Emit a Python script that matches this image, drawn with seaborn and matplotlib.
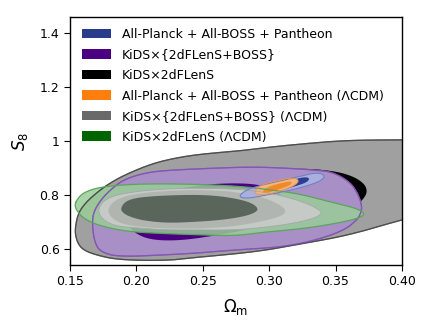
import numpy as np
import matplotlib
matplotlib.use('Agg')
import matplotlib.pyplot as plt
import matplotlib.patches as mpatches
from matplotlib.ticker import FormatStrFormatter, FuncFormatter
import seaborn as sns

# contour outlines (Omega_m, S8)
kids_outer_om = [0.154, 0.156, 0.161, 0.169, 0.179, 0.191, 0.211, 0.229, 0.249, 0.277, 0.301, 0.324, 0.350, 0.374, 0.399, 0.421,
                 0.421, 0.399, 0.374, 0.350, 0.324, 0.299, 0.274, 0.248, 0.224, 0.186, 0.169, 0.160, 0.156, 0.154]
kids_outer_s8 = [0.681, 0.730, 0.767, 0.804, 0.841, 0.874, 0.915, 0.937, 0.952, 0.963, 0.978, 0.989, 1.000, 1.004, 1.004, 1.007,
                 0.730, 0.707, 0.670, 0.641, 0.619, 0.596, 0.581, 0.570, 0.556, 0.559, 0.578, 0.596, 0.619, 0.652]

kids_inner_om = [0.248, 0.286, 0.324, 0.349, 0.363, 0.372, 0.374, 0.371, 0.367, 0.353, 0.323, 0.286, 0.248, 0.233]
kids_inner_s8 = [0.852, 0.885, 0.900, 0.889, 0.870, 0.841, 0.811, 0.785, 0.767, 0.741, 0.711, 0.693, 0.693, 0.748]

boss_outer_om = [0.173, 0.181, 0.191, 0.209, 0.229, 0.261, 0.287, 0.311, 0.334, 0.348, 0.361, 0.367, 0.370, 0.369, 0.366,
                 0.357, 0.336, 0.311, 0.274, 0.248, 0.224, 0.186, 0.173, 0.169, 0.167, 0.167]
boss_outer_s8 = [0.781, 0.822, 0.859, 0.885, 0.893, 0.900, 0.904, 0.900, 0.893, 0.885, 0.848, 0.804, 0.759, 0.730, 0.707,
                 0.670, 0.633, 0.607, 0.596, 0.585, 0.578, 0.570, 0.589, 0.619, 0.670, 0.730]

boss_inner_om = [0.191, 0.199, 0.218, 0.248, 0.270, 0.289, 0.301, 0.310, 0.312, 0.304, 0.286, 0.263, 0.233, 0.210, 0.197]
boss_inner_s8 = [0.711, 0.767, 0.811, 0.837, 0.844, 0.841, 0.826, 0.800, 0.767, 0.711, 0.674, 0.652, 0.630, 0.633, 0.663]

kids_lcdm_om = [0.153, 0.156, 0.161, 0.173, 0.199, 0.237, 0.277, 0.301, 0.323, 0.349, 0.365, 0.373, 0.366, 0.349, 0.324,
                0.298, 0.274, 0.248, 0.224, 0.195, 0.176, 0.165, 0.158]
kids_lcdm_s8 = [0.759, 0.789, 0.811, 0.830, 0.841, 0.841, 0.833, 0.819, 0.804, 0.770, 0.752, 0.730, 0.711, 0.693, 0.674,
                0.663, 0.648, 0.652, 0.656, 0.663, 0.681, 0.700, 0.722]

boss_lcdm_outer_om = [0.171, 0.173, 0.179, 0.188, 0.210, 0.240, 0.278, 0.301, 0.319, 0.331, 0.338, 0.340, 0.335, 0.323,
                      0.311, 0.293, 0.274, 0.248, 0.222, 0.199, 0.184, 0.175]
boss_lcdm_outer_s8 = [0.737, 0.767, 0.789, 0.804, 0.819, 0.826, 0.822, 0.807, 0.785, 0.763, 0.744, 0.733, 0.715, 0.700,
                      0.689, 0.678, 0.670, 0.670, 0.670, 0.678, 0.685, 0.707]

boss_lcdm_mid_om = [0.178, 0.182, 0.191, 0.210, 0.240, 0.270, 0.295, 0.310, 0.313, 0.308, 0.293, 0.270, 0.240, 0.210, 0.191, 0.182]
boss_lcdm_mid_s8 = [0.741, 0.774, 0.796, 0.811, 0.819, 0.815, 0.793, 0.759, 0.737, 0.719, 0.700, 0.681, 0.674, 0.678, 0.689, 0.711]

boss_lcdm_inner_om = [0.188, 0.191, 0.199, 0.214, 0.233, 0.252, 0.267, 0.280, 0.288, 0.292, 0.289, 0.280, 0.264, 0.244, 0.224,
                      0.206, 0.195, 0.190]
boss_lcdm_inner_s8 = [0.748, 0.774, 0.789, 0.796, 0.800, 0.800, 0.793, 0.781, 0.767, 0.748, 0.733, 0.719, 0.707, 0.700, 0.696,
                      0.704, 0.719, 0.733]

planck_outer_om = [0.2765, 0.2825, 0.2931, 0.3081, 0.3232, 0.3337, 0.3398, 0.3420, 0.3375, 0.3232, 0.3081, 0.2946, 0.2840]
planck_outer_s8 = [0.7926, 0.8185, 0.8352, 0.8519, 0.8685, 0.8815, 0.8796, 0.8667, 0.8481, 0.8259, 0.8093, 0.7963, 0.7870]

planck_inner_om = [0.3006, 0.3081, 0.3172, 0.3262, 0.3307, 0.3285, 0.3179, 0.3066]
planck_inner_s8 = [0.8148, 0.8370, 0.8556, 0.8667, 0.8630, 0.8463, 0.8296, 0.8130]

planck_lcdm_outer_om = [0.2886, 0.2908, 0.2961, 0.3059, 0.3157, 0.3209, 0.3224, 0.3172, 0.3074, 0.2968]
planck_lcdm_outer_s8 = [0.8037, 0.8259, 0.8407, 0.8537, 0.8630, 0.8611, 0.8481, 0.8296, 0.8130, 0.8000]

planck_lcdm_inner_om = [0.2946, 0.2968, 0.3036, 0.3127, 0.3172, 0.3164, 0.3081, 0.2991]
planck_lcdm_inner_s8 = [0.8074, 0.8241, 0.8370, 0.8481, 0.8500, 0.8370, 0.8222, 0.8074]

legend_labels = ['All-Planck + All-BOSS + Pantheon',
                 'KiDS\u00d7{2dFLenS+BOSS}',
                 'KiDS\u00d72dFLenS',
                 'All-Planck + All-BOSS + Pantheon (\u039bCDM)',
                 'KiDS\u00d7{2dFLenS+BOSS} (\u039bCDM)',
                 'KiDS\u00d72dFLenS (\u039bCDM)']
legend_colors = ['#283c8c', '#4b0082', '#000000', '#ff7f0e', '#696969', '#006400']


def smooth(x, y, n=4):
    # chaikin corner cutting on a closed outline
    p = np.column_stack([x, y]).astype(float)
    for _ in range(n):
        q = np.roll(p, -1, axis=0)
        p = np.stack([0.75 * p + 0.25 * q, 0.25 * p + 0.75 * q], axis=1).reshape(-1, 2)
    return p[:, 0], p[:, 1]


def outline(ax, x, y, ec, lw=0.8, alpha=1.0):
    sx, sy = smooth(x, y)
    ax.plot(np.append(sx, sx[0]), np.append(sy, sy[0]), color=ec, lw=lw, alpha=alpha)


def region(ax, x, y, fc, ec='none', lw=0.8, alpha=1.0):
    sx, sy = smooth(x, y)
    ax.fill(sx, sy, facecolor=fc, edgecolor='none', alpha=alpha)
    if ec != 'none':
        outline(ax, x, y, ec, lw)


sns.set_style('ticks')
plt.rcParams['font.family'] = ['DejaVu Sans']

fig, ax = plt.subplots(figsize=(4.28, 3.29), dpi=100)
fig.subplots_adjust(left=0.1636, right=0.939, bottom=0.1945, top=0.948)

region(ax, kids_outer_om, kids_outer_s8, '#a0a0a0', '#4d4d4d', 0.9)
region(ax, kids_inner_om, kids_inner_s8, '#000000')
region(ax, boss_outer_om, boss_outer_s8, '#a88fc6', '#8455b5', 0.9)
region(ax, boss_inner_om, boss_inner_s8, '#4b0082')
region(ax, kids_lcdm_om, kids_lcdm_s8, '#99cd99', alpha=0.85)
# edges seen through the green band
outline(ax, boss_outer_om, boss_outer_s8, '#8455b5', 0.9, alpha=0.7)
outline(ax, kids_outer_om, kids_outer_s8, '#4d4d4d', 0.9, alpha=0.6)
region(ax, boss_lcdm_outer_om, boss_lcdm_outer_s8, '#c6cac6', '#a4a8a4', 0.6)
region(ax, boss_lcdm_mid_om, boss_lcdm_mid_s8, '#b0b5b0')
region(ax, boss_lcdm_inner_om, boss_lcdm_inner_s8, '#5a665c')
outline(ax, kids_lcdm_om, kids_lcdm_s8, '#5ca35c', 0.9)
region(ax, planck_outer_om, planck_outer_s8, '#a9b0de', '#6c7cc4', 0.7)
region(ax, planck_inner_om, planck_inner_s8, '#2c3e94')
region(ax, planck_lcdm_outer_om, planck_lcdm_outer_s8, '#f4b27c', '#e8954a', 0.6)
region(ax, planck_lcdm_inner_om, planck_lcdm_inner_s8, '#f08a24')

ax.set_xlim(0.15, 0.40)
ax.set_ylim(0.54, 1.46)
ax.set_xticks([0.15, 0.20, 0.25, 0.30, 0.35, 0.40])
ax.set_yticks([0.6, 0.8, 1.0, 1.2, 1.4])
ax.xaxis.set_major_formatter(FormatStrFormatter('%.2f'))
ax.yaxis.set_major_formatter(FuncFormatter(lambda v, p: '%g' % v))
ax.tick_params(labelsize=9, length=4, width=0.8, direction='out', colors='black')
for s in ax.spines.values():
    s.set_linewidth(1.0)
    s.set_color('black')
ax.set_xlabel(r'$\Omega_{\rm m}$', fontsize=12, color='black', labelpad=6)
ax.set_ylabel(r'$S_8$', fontsize=12, color='black', labelpad=7)

handles = [mpatches.Patch(facecolor=c, edgecolor='none') for c in legend_colors]
leg = ax.legend(handles, legend_labels, loc='upper left', bbox_to_anchor=(0.036, 0.956), frameon=False,
                fontsize=9, borderpad=0, borderaxespad=0, handlelength=2.3, handleheight=0.8,
                handletextpad=0.9, labelspacing=0.6)
for t in leg.get_texts():
    t.set_color('black')

plt.savefig('out.png', dpi=100)
